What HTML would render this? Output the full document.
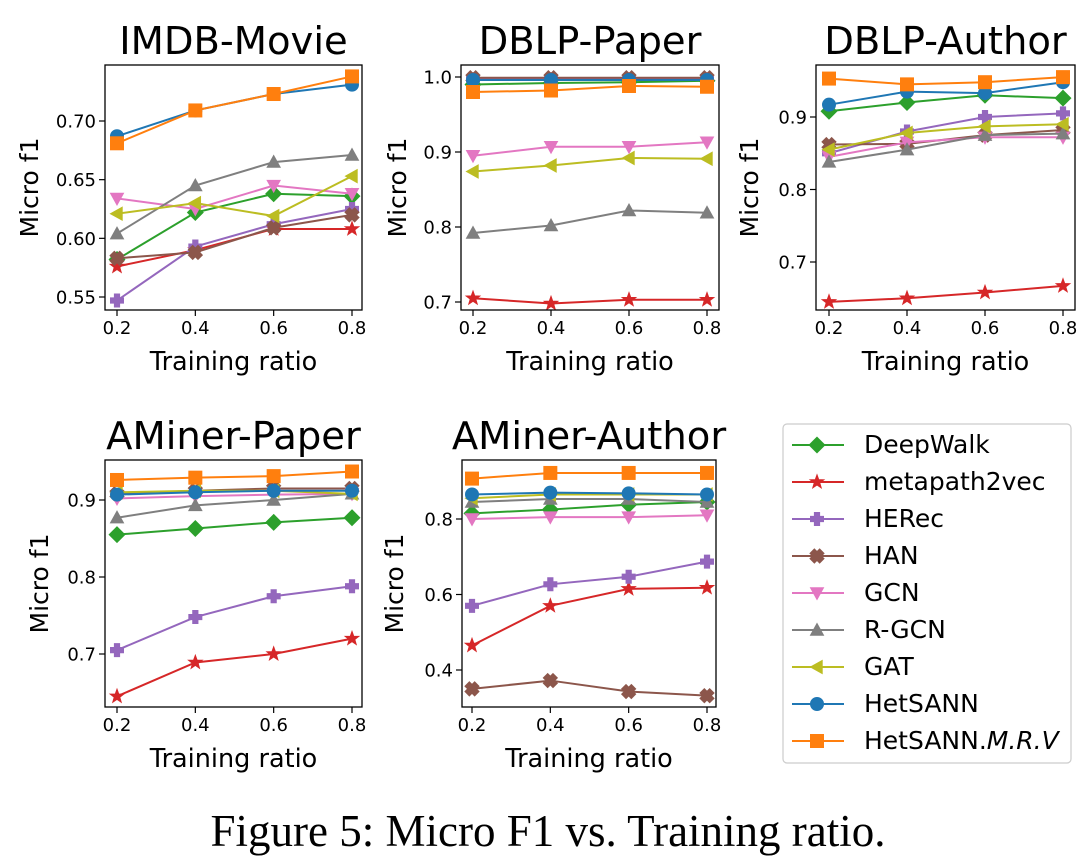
<!DOCTYPE html>
<html><head><meta charset="utf-8">
<style>
html,body{margin:0;padding:0;background:#fff;}
svg{display:block;font-family:"DejaVu Sans","Liberation Sans",sans-serif;}
</style></head>
<body>
<svg id="fig" width="1080" height="856" viewBox="0 0 1080 856" xmlns="http://www.w3.org/2000/svg">
<text x="548" y="846" text-anchor="middle" font-family="Liberation Serif, serif" font-size="45" fill="#000">Figure 5: Micro F1 vs. Training ratio.</text>
</svg>
<script>
const xCats = [0.2, 0.4, 0.6, 0.8];
const xTickLabels = ["0.2", "0.4", "0.6", "0.8"];
const seriesNames = ["DeepWalk","metapath2vec","HERec","HAN","GCN","R-GCN","GAT","HetSANN","HetSANN.M.R.V"];
const panelTitles = ["IMDB-Movie","DBLP-Paper","DBLP-Author","AMiner-Paper","AMiner-Author"];
const yTicks1 = [0.55,0.60,0.65,0.70];
const yTickLabels1 = ["0.55","0.60","0.65","0.70"];
const yTicks2 = [0.7,0.8,0.9,1.0];
const yTickLabels2 = ["0.7","0.8","0.9","1.0"];
const yTicks3 = [0.7,0.8,0.9];
const yTickLabels3 = ["0.7","0.8","0.9"];
const yTicks4 = [0.7,0.8,0.9];
const yTickLabels4 = ["0.7","0.8","0.9"];
const yTicks5 = [0.4,0.6,0.8];
const yTickLabels5 = ["0.4","0.6","0.8"];
const imdbMovie = [
 [0.582,0.622,0.638,0.636],[0.576,0.590,0.608,0.608],[0.547,0.593,0.612,0.625],
 [0.583,0.588,0.609,0.620],[0.634,0.625,0.645,0.638],[0.604,0.645,0.665,0.671],
 [0.621,0.630,0.619,0.653],[0.687,0.709,0.723,0.731],[0.681,0.709,0.723,0.738]];
const dblpPaper = [
 [0.990,0.992,0.993,0.995],[0.705,0.698,0.703,0.703],[0.997,0.997,0.997,0.997],
 [0.999,0.999,0.999,0.999],[0.895,0.907,0.907,0.913],[0.792,0.802,0.822,0.819],
 [0.874,0.882,0.892,0.891],[0.996,0.996,0.996,0.996],[0.980,0.982,0.988,0.987]];
const dblpAuthor = [
 [0.908,0.920,0.930,0.926],[0.645,0.650,0.658,0.667],[0.850,0.880,0.900,0.905],
 [0.862,0.863,0.875,0.882],[0.845,0.865,0.872,0.872],[0.838,0.855,0.875,0.877],
 [0.855,0.878,0.887,0.890],[0.917,0.935,0.933,0.948],[0.953,0.945,0.948,0.955]];
const aminerPaper = [
 [0.855,0.863,0.871,0.877],[0.645,0.689,0.700,0.720],[0.705,0.748,0.775,0.788],
 [0.908,0.912,0.915,0.915],[0.902,0.905,0.907,0.908],[0.877,0.893,0.900,0.908],
 [0.910,0.912,0.912,0.908],[0.907,0.910,0.912,0.912],[0.926,0.929,0.931,0.937]];
const aminerAuthor = [
 [0.815,0.825,0.838,0.845],[0.465,0.570,0.615,0.618],[0.570,0.627,0.647,0.687],
 [0.350,0.372,0.343,0.332],[0.800,0.805,0.805,0.810],[0.845,0.853,0.853,0.845],
 [0.855,0.865,0.865,0.865],[0.865,0.870,0.868,0.865],[0.907,0.922,0.922,0.922]];

const colors=["#2ca02c","#d62728","#9467bd","#8c564b","#e377c2","#7f7f7f","#bcbd22","#1f77b4","#ff7f0e"];
const markers=["D","*","P","X","v","^","<","o","s"];
const NS="http://www.w3.org/2000/svg";
const svg=document.getElementById('fig');
function mk(tag,attrs,parent){const e=document.createElementNS(NS,tag);for(const k in attrs)e.setAttribute(k,attrs[k]);(parent||svg).appendChild(e);return e;}

const panels=[
 {data:imdbMovie,yt:yTicks1,yl:yTickLabels1,L:105,R:362,T:65,B:310,xa:117,xb:352,va:0.70,pa:121,vb:0.55,pb:297,yo:75},
 {data:dblpPaper,yt:yTicks2,yl:yTickLabels2,L:461,R:719,T:65,B:310,xa:473,xb:707,va:1.0,pa:77,vb:0.7,pb:302,yo:63},
 {data:dblpAuthor,yt:yTicks3,yl:yTickLabels3,L:816,R:1075,T:65,B:310,xa:829,xb:1063,va:0.9,pa:117,vb:0.7,pb:262,yo:66},
 {data:aminerPaper,yt:yTicks4,yl:yTickLabels4,L:105,R:362,T:460,B:707,xa:117,xb:352,va:0.9,pa:500,vb:0.7,pb:654,yo:65},
 {data:aminerAuthor,yt:yTicks5,yl:yTickLabels5,L:462,R:716,T:460,B:707,xa:472,xb:707,va:0.8,pa:519,vb:0.4,pb:670,yo:67}];

function marker(g,m,x,y,c){
 const s=6.5;let e;
 if(m==="o") e=mk('circle',{cx:x,cy:y,r:s},g);
 else if(m==="s") e=mk('rect',{x:x-s,y:y-s,width:2*s,height:2*s},g);
 else {
  let pts;
  if(m==="D") pts=[[0,-s*1.2],[s*1.2,0],[0,s*1.2],[-s*1.2,0]];
  else if(m==="v") pts=[[-s,-s*0.8],[s,-s*0.8],[0,s]];
  else if(m==="^") pts=[[-s,s*0.8],[s,s*0.8],[0,-s]];
  else if(m==="<") pts=[[s*0.8,-s],[s*0.8,s],[-s,0]];
  else if(m==="P"){const a=s*0.4;pts=[[-a,-s],[a,-s],[a,-a],[s,-a],[s,a],[a,a],[a,s],[-a,s],[-a,a],[-s,a],[-s,-a],[-a,-a]];}
  else if(m==="X"){pts=[];const a=s*0.45;const base=[[-a,-s],[a,-s],[a,-a],[s,-a],[s,a],[a,a],[a,s],[-a,s],[-a,a],[-s,a],[-s,-a],[-a,-a]];const cs=Math.SQRT1_2;base.forEach(p=>pts.push([(p[0]-p[1])*cs*1.05,(p[0]+p[1])*cs*1.05]));}
  else if(m==="*"){pts=[];for(let i=0;i<10;i++){const r=i%2?s*0.45:s*1.1;const a=-Math.PI/2+i*Math.PI/5;pts.push([r*Math.cos(a),r*Math.sin(a)]);}}
  e=mk('polygon',{points:pts.map(p=>(x+p[0])+','+(y+p[1])).join(' ')},g);
 }
 e.setAttribute('fill',c);e.setAttribute('stroke',c);e.setAttribute('stroke-width','1');
 return e;
}

panels.forEach((p,pi)=>{
 const g=mk('g',{});
 
 
 const xs=v=>p.xa+(v-xCats[0])/(xCats[3]-xCats[0])*(p.xb-p.xa);
 const ys=v=>p.pa+(v-p.va)/(p.vb-p.va)*(p.pb-p.pa);
 const t=mk('text',{x:(p.L+p.R)/2,y:p.T-11,'text-anchor':'middle','font-size':38.5,fill:'#000'},g);
 t.textContent=panelTitles[pi];
 
 
 xCats.forEach((v,i)=>{
  mk('line',{x1:xs(v),x2:xs(v),y1:p.B,y2:p.B+6,stroke:'#000','stroke-width':1.2},g);
  const tl=mk('text',{x:xs(v),y:p.B+24,'text-anchor':'middle','font-size':18,fill:'#000'},g);
  tl.textContent=xTickLabels[i];
  
  
 });
 p.yt.forEach((v,i)=>{
  mk('line',{x1:p.L-6,x2:p.L,y1:ys(v),y2:ys(v),stroke:'#000','stroke-width':1.2},g);
  const tl=mk('text',{x:p.L-9,y:ys(v)+6.5,'text-anchor':'end','font-size':18,fill:'#000'},g);
  tl.textContent=p.yl[i];
  
  
 });
 const xl=mk('text',{x:(p.L+p.R)/2,y:p.B+60,'text-anchor':'middle','font-size':25.5,fill:'#000'},g);
 xl.textContent='Training ratio';
 
 
 const yx=p.L-p.yo+8;
 const cy=(p.T+p.B)/2;
 const yl=mk('text',{x:yx,y:cy,'text-anchor':'middle','font-size':25,fill:'#000',transform:'rotate(-90 '+yx+' '+cy+')'},g);
 yl.textContent='Micro f1';
 
 
 p.data.forEach((vals,si)=>{
  const sg=mk('g',{},g);
  
  
  mk('polyline',{points:vals.map((v,i)=>xs(xCats[i])+','+ys(v)).join(' '),fill:'none',stroke:colors[si],'stroke-width':2},sg);
  vals.forEach((v,i)=>marker(sg,markers[si],xs(xCats[i]),ys(v),colors[si]));
 });
 const box=mk('rect',{x:p.L,y:p.T,width:p.R-p.L,height:p.B-p.T,fill:'none',stroke:'#000','stroke-width':1.3},g);
 
 
});

// legend
const lg=mk('g',{});


mk('rect',{x:783,y:424,width:288,height:339,rx:4,fill:'#fff',stroke:'#ccc','stroke-width':1.2},lg);
seriesNames.forEach((n,i)=>{
 const y=445+i*37;
 const eg=mk('g',{},lg);
 
 
 mk('line',{x1:792,x2:844,y1:y,y2:y,stroke:colors[i],'stroke-width':2},eg);
 marker(eg,markers[i],817,y,colors[i]);
 const t=mk('text',{x:864,y:y+8,'font-size':25,fill:'#000'},eg);
 if(n==="HetSANN.M.R.V"){t.textContent='HetSANN.';const ts=mk('tspan',{'font-style':'italic'},t);ts.textContent='M.R.V';}
 else t.textContent=n;
});
</script>
</body></html>
